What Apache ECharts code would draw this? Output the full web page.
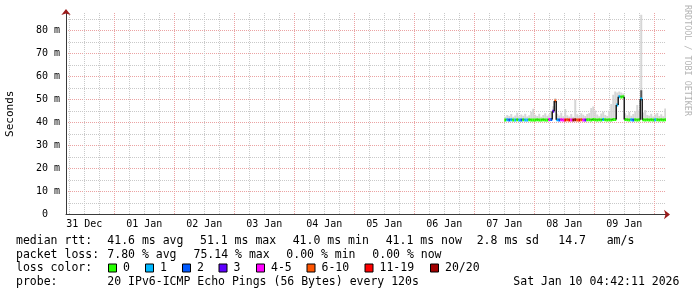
<!DOCTYPE html>
<html><head><meta charset="utf-8">
<script src="https://cdn.jsdelivr.net/npm/echarts@6/dist/echarts.min.js"></script>
<style>html,body{margin:0;padding:0;background:#fff}#c{width:697px;height:297px}</style>
</head><body><div id="c"></div>
<script>
// ---- data (x in hours since 31 Dec 00:00) ----
const axisStartHour = 4.7;      // Dec 31 04:42
const axisEndHour = 244.7;      // Jan 10 04:42
const dayLabels = ['31 Dec','01 Jan','02 Jan','03 Jan','04 Jan','05 Jan','06 Jan','07 Jan','08 Jan','09 Jan'];
const dayLabelHours = [12,36,60,84,108,132,156,180,204,228];
const majorGridHours = [24,48,72,96,120,144,168,192,216,240];
const minorGridHours = [6,12,18,30,36,42,54,60,66,78,84,90,102,108,114,126,132,138,150,156,162,174,180,186,198,204,210,222,228,234];
const yTicks = [0,10,20,30,40,50,60,70,80];
const yMinorTicks = [5,15,25,35,45,55,65,75,85];

const sampleStart = 180;   // Jan 7 12:00
const sampleStep = 0.8;    // hours per sample

const medianMs = [
  41.0,41.1,41.0,41.1,41.0,41.0,41.1,41.0,41.0,41.1,41.0,41.0,41.1,41.0,41.0,41.0,41.1,41.0,41.0,41.1,41.0,41.0,
  41.2,41.3,44.8,49.3,41.1,
  41.0,41.1,41.0,41.0,41.1,41.0,41.0,41.0,41.1,41.0,41.0,41.1,41.0,41.0,41.1,
  41.1,41.0,41.2,41.1,41.0,41.1,41.0,41.2,41.1,41.0,41.1,41.0,41.2,41.3,
  47.5,51.1,51.0,51.1,
  41.2,41.1,41.0,41.1,41.0,41.1,41.0,41.1,
  50.2,
  41.1,41.0,41.1,41.0,41.1,41.0,41.1,41.1,41.0,41.1,41.0,41.1
];
const lostPings = [
  0,1,2,1,0,1,0,1,2,0,1,1,
  0,0,0,0,0,0,0,0,0,0,
  4,2,3,8,1,2,5,4,12,8,14,5,20,20,7,15,9,4,3,0,
  0,0,0,0,0,0,0,1,0,0,0,0,0,0,
  1,1,0,0,
  0,0,0,1,2,0,0,0,
  1,
  0,0,0,0,0,0,1,0,0,0,0,0
];
const smokeTopMs = [
  42.5,43.2,42.8,43.6,42.4,43.0,44.2,42.7,43.4,42.9,43.8,42.6,43.1,44.6,45.9,43.3,42.8,43.7,42.5,43.2,44.0,42.9,
  43.5,44.5,47.0,50.5,43.8,
  43.0,44.2,42.7,45.8,43.1,42.6,43.6,42.4,49.8,43.5,42.9,44.0,43.3,42.8,43.6,
  44.1,46.3,46.9,45.2,43.4,42.7,43.9,44.6,43.2,42.8,45.0,48.0,52.0,53.4,
  53.0,53.4,53.0,52.5,
  44.0,43.1,44.5,42.9,43.6,44.8,47.6,45.2,
  86.7,
  44.3,45.4,43.2,42.9,43.8,42.6,43.4,44.1,42.8,43.5,42.7,46.0
];
const smokeDarkMs = [
  41.0,41.1,41.0,41.1,41.0,41.0,41.1,41.0,41.0,41.1,41.0,41.0,41.1,41.0,41.0,41.0,41.1,41.0,41.0,41.1,41.0,41.0,
  41.2,41.3,44.8,49.3,41.1,
  41.0,41.1,41.0,41.0,41.1,41.0,41.0,41.0,41.1,41.0,41.0,41.1,41.0,41.0,41.1,
  41.1,41.0,41.2,41.1,41.0,41.1,41.0,41.2,41.1,41.0,41.1,41.0,41.2,41.3,
  47.5,51.1,51.0,51.1,
  41.2,41.1,41.0,41.1,41.0,41.1,41.0,41.1,
  54.0,
  41.1,41.0,41.1,41.0,41.1,41.0,41.1,41.1,41.0,41.1,41.0,41.1
];

const lossLabels = ['0','1','2','3','4-5','6-10','11-19','20/20'];
const lossColors = ['#26ff00','#00b8ff','#0059ff','#5e00ff','#ff00ff','#ff5500','#ff0000','#a10000'];
const rttStats = ['41.6 ms avg','51.1 ms max','41.0 ms min','41.1 ms now','2.8 ms sd','14.7','am/s'];
const lossStats = ['7.80 % avg','75.14 % max','0.00 % min','0.00 % now'];
const rowTitles = ['median rtt:','packet loss:','loss color:','probe:'];
const probeText = '20 IPv6-ICMP Echo Pings (56 Bytes) every 120s';
const timestampText = 'Sat Jan 10 04:42:11 2026';
const watermark = 'RRDTOOL / TOBI OETIKER';

// ---- layout (positions only) ----
const L = {
  rowY: [241.5, 255, 268.5, 282.5],
  rttX: [107.3, 200, 292.7, 385.7, 476.7, 558.3, 606.7],
  lossX: [107.3, 193.5, 286.3, 372.3],
  boxX: [108.5, 145.5, 182.5, 219, 256.5, 307, 365, 430.5],
  valueX: 107.3,
  timeX: 513.3
};

function lossClass(n){
  if (n <= 3) return n;
  if (n <= 5) return 4;
  if (n <= 10) return 5;
  if (n <= 19) return 6;
  return 7;
}

const sampleData = medianMs.map((m, i) => [
  sampleStart + i * sampleStep, m, smokeTopMs[i], smokeDarkMs[i],
  lossClass(lostPings[i]), i > 0 ? medianMs[i-1] : m
]);

const FONT = '"DejaVu Sans Mono", monospace';
const MINOR = '#c9c9c9';
const MAJOR = '#eba3a3';
const AXIS = '#3a3a3a';
const ARROW = '#9b1b1b';

const chart = echarts.init(document.getElementById('c'), null, {renderer:'canvas'});

function smokeItem(params, api){
  const h = api.value(0);
  const base = api.coord([h, api.value(1)]);
  const top = api.coord([h + sampleStep, api.value(2)]);
  const dark = api.coord([h, api.value(3)]);
  return {type:'group', children:[
    {type:'rect', shape:{x:base[0], y:top[1], width:top[0]-base[0], height:base[1]-top[1]}, style:{fill:'#d6d6d6'}},
    {type:'rect', shape:{x:base[0], y:dark[1], width:top[0]-base[0], height:base[1]-dark[1]}, style:{fill:'#5a5a5a'}}
  ]};
}
function medianItem(params, api){
  const h = api.value(0);
  const p0 = api.coord([h, api.value(1)]);
  const p1 = api.coord([h + sampleStep, api.value(1)]);
  const pp = api.coord([h, api.value(5)]);
  const col = lossColors[api.value(4)];
  return {type:'group', children:[
    {type:'rect', shape:{x:p0[0], y:p0[1]-1.5, width:p1[0]-p0[0], height:3}, style:{fill:col}},
    {type:'line', shape:{x1:p0[0], y1:pp[1], x2:p0[0], y2:p0[1]}, style:{stroke:'#202020', lineWidth:1.5}}
  ]};
}

const graphics = [];
function txt(x, y, s){
  graphics.push({type:'text', x:x, y:y, silent:true,
    style:{text:s, font:'11.5px ' + FONT, fill:'#000', textVerticalAlign:'middle', verticalAlign:'middle'}});
}
rowTitles.forEach((t, r) => txt(16, L.rowY[r], t));
rttStats.forEach((t, i) => txt(L.rttX[i], L.rowY[0], t));
lossStats.forEach((t, i) => txt(L.lossX[i], L.rowY[1], t));
lossLabels.forEach((t, i) => {
  graphics.push({type:'rect', silent:true, shape:{x:L.boxX[i], y:L.rowY[2]-4.5, width:8, height:8},
    style:{fill:lossColors[i], stroke:'#000', lineWidth:1}});
  txt(L.boxX[i] + 14.5, L.rowY[2], t);
});
txt(L.valueX, L.rowY[3], probeText);
txt(L.timeX, L.rowY[3], timestampText);
graphics.push({type:'text', x:687, y:5, rotation:-Math.PI/2, silent:true,
  style:{text:watermark, font:'8.4px ' + FONT, fill:'#b4b4b4', textVerticalAlign:'middle', verticalAlign:'middle'}});

const gridAxis = (vals, color, arrow) => ({
  type:'value', position:'bottom', min:axisStartHour, max:axisEndHour,
  axisLine: arrow ? {show:true, onZero:false, symbol:['none','arrow'], symbolSize:[7,6], symbolOffset:[0,4], lineStyle:{color:ARROW, width:0}} : {show:false},
  axisTick:{show:false, customValues:vals},
  axisLabel:{show:false, customValues:vals},
  splitLine:{show:true, lineStyle:{color:color, type:[1,1], width:1}}
});

chart.setOption({
  animation:false,
  backgroundColor:'#ffffff',
  grid:{left:66, right:31, top:13, bottom:82.5, containLabel:false, outerBoundsMode:'none'},
  graphic: graphics,
  xAxis:[
    gridAxis(minorGridHours, MINOR, false),
    gridAxis(majorGridHours, MAJOR, true),
    {
      type:'value', position:'bottom', min:axisStartHour, max:axisEndHour,
      axisLine:{show:true, onZero:false, lineStyle:{color:AXIS, width:1}},
      axisTick:{show:false, customValues:dayLabelHours},
      axisLabel:{customValues:dayLabelHours, margin:5, color:'#000', fontFamily:'DejaVu Sans Mono', fontSize:10,
        formatter:(v) => dayLabels[dayLabelHours.indexOf(Math.round(v))] || ''},
      splitLine:{show:false}
    }
  ],
  yAxis:[
    {type:'value', position:'left', min:0, max:87.5,
      axisLine:{show:false}, axisTick:{show:false, customValues:yMinorTicks}, axisLabel:{show:false, customValues:yMinorTicks},
      splitLine:{show:true, lineStyle:{color:MINOR, type:[1,1]}}},
    {type:'value', position:'left', min:0, max:87.5,
      axisLine:{show:true, onZero:false, symbol:['none','arrow'], symbolSize:[7,6], symbolOffset:[0,4], lineStyle:{color:ARROW, width:0}},
      axisTick:{show:false, customValues:yTicks}, axisLabel:{show:false, customValues:yTicks},
      splitLine:{show:true, lineStyle:{color:MAJOR, type:[1,1]}}},
    {type:'value', position:'left', min:0, max:87.5,
      name:'Seconds', nameLocation:'middle', nameGap:50,
      nameTextStyle:{fontFamily:'DejaVu Sans Mono', fontSize:11, color:'#000'},
      axisLine:{show:true, onZero:false, lineStyle:{color:AXIS, width:1}},
      axisTick:{show:false, customValues:yTicks},
      axisLabel:{customValues:yTicks, margin:6, color:'#000', fontFamily:'DejaVu Sans Mono', fontSize:10,
        formatter:(v) => v === 0 ? '0  ' : v + ' m'},
      splitLine:{show:false}}
  ],
  series:[
    {type:'custom', xAxisIndex:2, yAxisIndex:2, renderItem:smokeItem, data:sampleData, clip:true, silent:true,
      encode:{x:0, y:[1,2]}},
    {type:'custom', xAxisIndex:2, yAxisIndex:2, renderItem:medianItem, data:sampleData, clip:true, silent:true,
      encode:{x:0, y:1}}
  ]
});
</script></body></html>
